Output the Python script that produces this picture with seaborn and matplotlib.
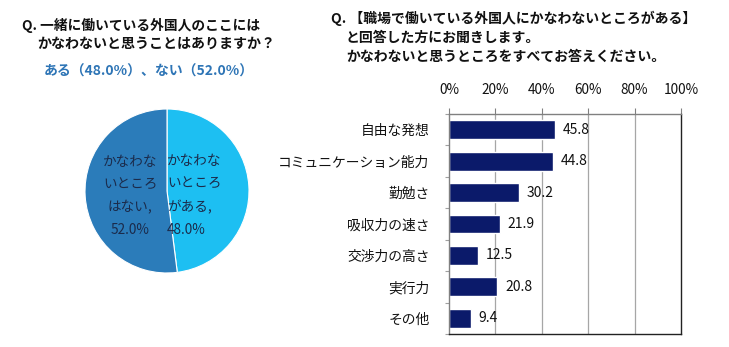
import matplotlib
matplotlib.use("Agg")
import matplotlib.pyplot as plt
import seaborn as sns
import pandas as pd
import numpy as np

sns.set_theme(style="white")
plt.rcParams['font.family'] = ['Noto Sans CJK JP', 'DejaVu Sans']

# Pie: share of respondents
pie_labels = ["かなわな\nいところ\nがある,\n48.0%", "かなわな\nいところ\nはない,\n52.0%"]
pie_values = [48.0, 52.0]
pie_colors = ["#1DBFF2", "#2B7CBA"]

# Bars: what they cannot match
categories = ["自由な発想", "コミュニケーション能力", "勤勉さ", "吸収力の速さ",
              "交渉力の高さ", "実行力", "その他"]
values = [45.8, 44.8, 30.2, 21.9, 12.5, 20.8, 9.4]
x_ticks = [0, 20, 40, 60, 80, 100]
x_tick_labels = ["0%", "20%", "40%", "60%", "80%", "100%"]

W, H = 729, 347
fig = plt.figure(figsize=(W / 100, H / 100), dpi=100)
fig.patch.set_facecolor("white")

def fx(px):
    return px / W

def fy(py):
    return 1 - py / H

# Titles
fig.text(fx(22), fy(25), "Q. 一緒に働いている外国人のここには", fontsize=9.9,
         fontweight="bold", color="#111111", va="center", ha="left")
fig.text(fx(37), fy(44), "かなわないと思うことはありますか？", fontsize=10.1,
         fontweight="bold", color="#111111", va="center", ha="left")
fig.text(fx(44), fy(72), "ある（48.0%）、ない（52.0%）", fontsize=10.0,
         fontweight="bold", color="#2E75B6", va="center", ha="left")

fig.text(fx(331), fy(18), "Q. 【職場で働いている外国人にかなわないところがある】", fontsize=10.0,
         fontweight="bold", color="#111111", va="center", ha="left")
fig.text(fx(346), fy(38), "と回答した方にお聞きします。", fontsize=10.0,
         fontweight="bold", color="#111111", va="center", ha="left")
fig.text(fx(346), fy(57), "かなわないと思うところをすべてお答えください。", fontsize=10.0,
         fontweight="bold", color="#111111", va="center", ha="left")

# Pie chart
cx, cy, r = 167, 191, 82
ax_pie = fig.add_axes([fx(cx - r), fy(cy + r), 2 * r / W, 2 * r / H])
ax_pie.pie(pie_values, colors=pie_colors, startangle=90, counterclock=False,
           wedgeprops=dict(linewidth=0.8, edgecolor="white"))
ax_pie.set_xlim(-1, 1)
ax_pie.set_ylim(-1, 1)
ax_pie.set_aspect("auto")
ax_pie.axis("off")
ax_pie.text(0.0, -0.06, pie_labels[0], ha="left", va="center", fontsize=9.8,
            color="#1B2B4B", linespacing=1.8)
ax_pie.text(-0.45, -0.06, pie_labels[1], ha="center", va="center", fontsize=9.8,
            color="#1B2B4B", linespacing=1.8)

# Bar chart
ax = fig.add_axes([fx(449), fy(334), (681 - 449) / W, (334 - 114) / H])
df = pd.DataFrame({"category": categories, "value": values})
sns.barplot(data=df, x="value", y="category", orient="h", color="#0B1A6A",
            saturation=1, width=0.6, ax=ax)
ax.set_xlim(0, 100)
ax.set_ylim(len(categories) - 0.5, -0.5)
ax.set_xlabel("")
ax.set_ylabel("")
ax.xaxis.tick_top()
ax.set_xticks(x_ticks)
ax.set_xticklabels(x_tick_labels, fontsize=9.8, color="#111111")
ax.tick_params(axis="x", top=True, length=4, width=0.8, color="#808080", pad=8)
ax.set_yticks(range(len(categories)))
ax.set_yticklabels(categories, fontsize=9.9, color="#111111")
ax.tick_params(axis="y", left=False, length=0, pad=14)
ax.set_yticks(np.arange(len(categories) + 1) - 0.5, minor=True)
ax.tick_params(axis="y", which="minor", left=True, length=3, width=0.8, color="#A0A0A0")
for g in x_ticks[1:-1]:
    ax.axvline(g, color="#A6A6A6", linewidth=0.9, zorder=0)
for side in ["top", "left"]:
    ax.spines[side].set_color("#808080")
    ax.spines[side].set_linewidth(1.0)
for side in ["right", "bottom"]:
    ax.spines[side].set_color("#222222")
    ax.spines[side].set_linewidth(1.0)
ax.spines["right"].set_visible(True)

for i, v in enumerate(values):
    ax.text(v + 3.4, i, f"{v:.1f}", ha="left", va="center", fontsize=10.0, color="#111111")

fig.savefig("out.png", dpi=100, facecolor="white")
